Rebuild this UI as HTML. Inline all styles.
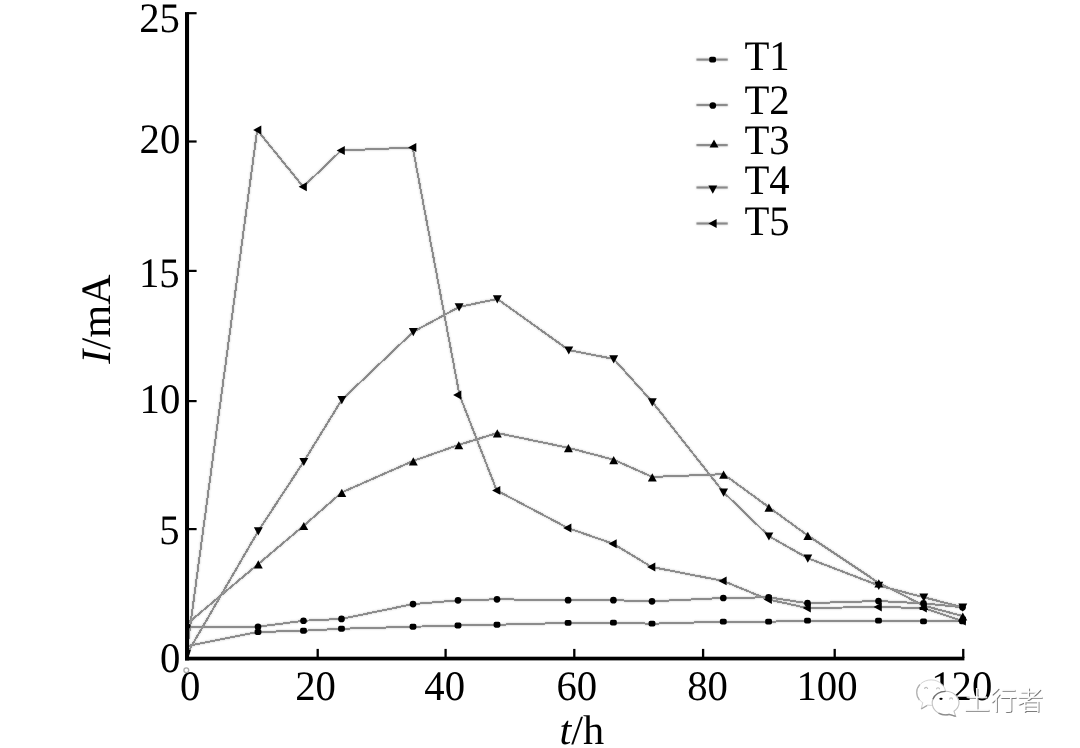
<!DOCTYPE html>
<html lang="zh">
<head>
<meta charset="utf-8">
<title>I/mA - t/h</title>
<style>
html,body{margin:0;padding:0;background:#fff;}
body{width:1080px;height:748px;overflow:hidden;position:relative;}
svg{display:block;position:absolute;left:0;top:0;}
text{font-family:"Liberation Serif","Noto Serif CJK SC",serif;fill:#000;text-rendering:geometricPrecision;}
.tick{font-size:42px;}
.lab{font-size:41.5px;}
.leg{font-size:42px;}
.wm{font-family:"Liberation Sans","Noto Sans CJK SC",sans-serif;font-size:26.6px;font-weight:300;}
</style>
</head>
<body>
<svg width="1080" height="748" viewBox="0 0 1080 748">
<rect width="1080" height="748" fill="#fff"/>

<defs><filter id="soft" filterUnits="userSpaceOnUse" x="0" y="0" width="1080" height="748" color-interpolation-filters="sRGB"><feGaussianBlur in="SourceGraphic" stdDeviation="0.8" result="b"/><feComposite in="SourceGraphic" in2="b" operator="arithmetic" k1="0" k2="0.7" k3="0.45" k4="0"/></filter></defs>
<g fill="none" stroke="#888888" stroke-width="2.0" stroke-linejoin="round" shape-rendering="crispEdges" filter="url(#soft)">
<polyline points="187.50,646.00 258.00,632.00 303.50,630.75 341.50,628.75 413.00,626.75 458.00,625.50 497.00,624.75 568.10,622.90 613.40,622.70 652.00,623.70 723.30,621.70 768.60,621.70 807.50,620.70 878.50,620.60 923.50,621.30 962.50,621.30"/>
<polyline points="187.50,626.50 258.00,626.75 303.50,620.75 341.50,618.90 413.00,604.10 458.00,600.30 497.00,599.30 568.10,600.20 613.40,600.20 652.00,601.30 723.30,598.00 768.60,597.30 807.50,603.20 878.50,601.00 923.50,603.40 962.50,607.30"/>
<polyline points="187.50,623.50 258.30,564.00 303.80,525.60 341.80,492.40 413.30,460.90 458.80,444.85 497.30,433.00 568.40,447.80 613.70,459.70 652.30,476.90 723.60,474.20 768.90,507.20 807.80,535.50 878.80,582.90 923.80,605.60 962.80,616.10"/>
<polyline points="187.50,653.00 258.30,531.00 303.80,461.60 341.80,399.80 413.30,331.80 459.10,307.00 497.30,298.90 568.80,350.10 613.70,358.90 652.30,401.90 723.60,492.30 768.90,536.10 807.80,558.20 878.80,585.50 923.80,597.30 962.80,607.20"/>
<polyline points="187.50,646.00 257.20,130.00 303.20,186.75 341.20,150.50 412.70,147.50 459.50,395.00 496.70,490.40 567.80,528.00 613.10,543.75 651.70,567.00 723.00,580.90 768.30,599.50 807.20,608.00 878.20,607.00 923.20,608.00 962.20,621.00"/>
</g>
<g fill="#000">
<rect x="254.60" y="629.10" width="6.80" height="5.80" rx="1.8" ry="1.8"/>
<rect x="300.10" y="627.85" width="6.80" height="5.80" rx="1.8" ry="1.8"/>
<rect x="338.10" y="625.85" width="6.80" height="5.80" rx="1.8" ry="1.8"/>
<rect x="409.60" y="623.85" width="6.80" height="5.80" rx="1.8" ry="1.8"/>
<rect x="454.60" y="622.60" width="6.80" height="5.80" rx="1.8" ry="1.8"/>
<rect x="493.60" y="621.85" width="6.80" height="5.80" rx="1.8" ry="1.8"/>
<rect x="564.70" y="620.00" width="6.80" height="5.80" rx="1.8" ry="1.8"/>
<rect x="610.00" y="619.80" width="6.80" height="5.80" rx="1.8" ry="1.8"/>
<rect x="648.60" y="620.80" width="6.80" height="5.80" rx="1.8" ry="1.8"/>
<rect x="719.90" y="618.80" width="6.80" height="5.80" rx="1.8" ry="1.8"/>
<rect x="765.20" y="618.80" width="6.80" height="5.80" rx="1.8" ry="1.8"/>
<rect x="804.10" y="617.80" width="6.80" height="5.80" rx="1.8" ry="1.8"/>
<rect x="875.10" y="617.70" width="6.80" height="5.80" rx="1.8" ry="1.8"/>
<rect x="920.10" y="618.40" width="6.80" height="5.80" rx="1.8" ry="1.8"/>
<rect x="959.10" y="618.40" width="6.80" height="5.80" rx="1.8" ry="1.8"/>
<circle cx="258.00" cy="626.75" r="3.35"/>
<circle cx="303.50" cy="620.75" r="3.35"/>
<circle cx="341.50" cy="618.90" r="3.35"/>
<circle cx="413.00" cy="604.10" r="3.35"/>
<circle cx="458.00" cy="600.30" r="3.35"/>
<circle cx="497.00" cy="599.30" r="3.35"/>
<circle cx="568.10" cy="600.20" r="3.35"/>
<circle cx="613.40" cy="600.20" r="3.35"/>
<circle cx="652.00" cy="601.30" r="3.35"/>
<circle cx="723.30" cy="598.00" r="3.35"/>
<circle cx="768.60" cy="597.30" r="3.35"/>
<circle cx="807.50" cy="603.20" r="3.35"/>
<circle cx="878.50" cy="601.00" r="3.35"/>
<circle cx="923.50" cy="603.40" r="3.35"/>
<circle cx="962.50" cy="607.30" r="3.35"/>
<path d="M253.85 568.50L262.75 568.50L258.30 560.30Z"/>
<path d="M299.35 530.10L308.25 530.10L303.80 521.90Z"/>
<path d="M337.35 496.90L346.25 496.90L341.80 488.70Z"/>
<path d="M408.85 465.40L417.75 465.40L413.30 457.20Z"/>
<path d="M454.35 449.35L463.25 449.35L458.80 441.15Z"/>
<path d="M492.85 437.50L501.75 437.50L497.30 429.30Z"/>
<path d="M563.95 452.30L572.85 452.30L568.40 444.10Z"/>
<path d="M609.25 464.20L618.15 464.20L613.70 456.00Z"/>
<path d="M647.85 481.40L656.75 481.40L652.30 473.20Z"/>
<path d="M719.15 478.70L728.05 478.70L723.60 470.50Z"/>
<path d="M764.45 511.70L773.35 511.70L768.90 503.50Z"/>
<path d="M803.35 540.00L812.25 540.00L807.80 531.80Z"/>
<path d="M874.35 587.40L883.25 587.40L878.80 579.20Z"/>
<path d="M919.35 610.10L928.25 610.10L923.80 601.90Z"/>
<path d="M958.35 620.60L967.25 620.60L962.80 612.40Z"/>
<path d="M253.85 527.30L262.75 527.30L258.30 535.50Z"/>
<path d="M299.35 457.90L308.25 457.90L303.80 466.10Z"/>
<path d="M337.35 396.10L346.25 396.10L341.80 404.30Z"/>
<path d="M408.85 328.10L417.75 328.10L413.30 336.30Z"/>
<path d="M454.65 303.30L463.55 303.30L459.10 311.50Z"/>
<path d="M492.85 295.20L501.75 295.20L497.30 303.40Z"/>
<path d="M564.35 346.40L573.25 346.40L568.80 354.60Z"/>
<path d="M609.25 355.20L618.15 355.20L613.70 363.40Z"/>
<path d="M647.85 398.20L656.75 398.20L652.30 406.40Z"/>
<path d="M719.15 488.60L728.05 488.60L723.60 496.80Z"/>
<path d="M764.45 532.40L773.35 532.40L768.90 540.60Z"/>
<path d="M803.35 554.50L812.25 554.50L807.80 562.70Z"/>
<path d="M874.35 581.80L883.25 581.80L878.80 590.00Z"/>
<path d="M919.35 593.60L928.25 593.60L923.80 601.80Z"/>
<path d="M958.35 603.50L967.25 603.50L962.80 611.70Z"/>
<path d="M261.30 125.55L261.30 134.45L253.10 130.00Z"/>
<path d="M306.80 182.30L306.80 191.20L298.60 186.75Z"/>
<path d="M344.80 146.05L344.80 154.95L336.60 150.50Z"/>
<path d="M416.30 143.05L416.30 151.95L408.10 147.50Z"/>
<path d="M461.30 390.55L461.30 399.45L453.10 395.00Z"/>
<path d="M500.30 485.95L500.30 494.85L492.10 490.40Z"/>
<path d="M571.40 523.55L571.40 532.45L563.20 528.00Z"/>
<path d="M616.70 539.30L616.70 548.20L608.50 543.75Z"/>
<path d="M655.30 562.55L655.30 571.45L647.10 567.00Z"/>
<path d="M726.60 576.45L726.60 585.35L718.40 580.90Z"/>
<path d="M771.90 595.05L771.90 603.95L763.70 599.50Z"/>
<path d="M810.80 603.55L810.80 612.45L802.60 608.00Z"/>
<path d="M881.80 602.55L881.80 611.45L873.60 607.00Z"/>
<path d="M926.80 603.55L926.80 612.45L918.60 608.00Z"/>
<path d="M965.80 616.55L965.80 625.45L957.60 621.00Z"/>
</g>
<g fill="#000">
<circle cx="187.9" cy="626" r="2.6"/>
<path d="M186 650L190.9 650L189.2 655.5Z"/>
<rect x="185" y="12.1" width="4.05" height="648.3"/>
<rect x="185" y="656.7" width="779.4" height="3.7"/>
<rect x="187" y="12.10" width="9.6" height="2.2"/>
<rect x="187" y="140.40" width="9.6" height="2.2"/>
<rect x="187" y="269.80" width="9.6" height="2.2"/>
<rect x="187" y="400.00" width="9.6" height="2.2"/>
<rect x="187" y="528.00" width="9.6" height="2.2"/>
<rect x="316.55" y="648.9" width="2.3" height="9"/>
<rect x="444.45" y="648.9" width="2.3" height="9"/>
<rect x="573.15" y="648.9" width="2.3" height="9"/>
<rect x="701.95" y="648.9" width="2.3" height="9"/>
<rect x="833.55" y="648.9" width="2.3" height="9"/>
<rect x="962.10" y="648.9" width="2.3" height="9"/>
</g>
<text class="tick" transform="translate(139.25,31.70) scale(0.97,1)">25</text>
<text class="tick" transform="translate(139.51,152.60) scale(0.97,1)">20</text>
<text class="tick" transform="translate(138.95,287.20) scale(0.97,1)">15</text>
<text class="tick" transform="translate(139.51,412.70) scale(0.97,1)">10</text>
<text class="tick" transform="translate(159.32,543.60) scale(0.97,1)">5</text>
<text class="tick" transform="translate(159.88,672.30) scale(0.97,1)">0</text>
<text class="tick" transform="translate(180.07,699.90) scale(0.97,1)">0</text>
<text class="tick" transform="translate(295.16,699.90) scale(0.97,1)">20</text>
<text class="tick" transform="translate(424.36,699.90) scale(0.97,1)">40</text>
<text class="tick" transform="translate(556.43,699.90) scale(0.97,1)">60</text>
<text class="tick" transform="translate(687.23,699.90) scale(0.97,1)">80</text>
<text class="tick" transform="translate(796.48,699.90) scale(0.97,1)">100</text>
<text class="tick" transform="translate(931.18,699.90) scale(0.97,1)">120</text>
<text class="lab" transform="translate(559.40,744.00) scale(1.02,1)"><tspan font-style="italic">t</tspan>/h</text>
<text class="lab" transform="translate(109.5,363.7) rotate(-90) scale(1.02,1.01)"><tspan font-style="italic">I</tspan>/mA</text>
<g fill="none" stroke="#888888" stroke-width="2.2" filter="url(#soft)">
<line x1="696.4" y1="59.6" x2="727.8" y2="59.6"/>
<line x1="696.4" y1="105" x2="727.8" y2="105"/>
<line x1="696.4" y1="145.1" x2="727.8" y2="145.1"/>
<line x1="696.4" y1="187.5" x2="727.8" y2="187.5"/>
<line x1="696.4" y1="223.5" x2="727.8" y2="223.5"/>
</g>
<g fill="#000"><rect x="709.20" y="56.70" width="6.80" height="5.80" rx="1.8" ry="1.8"/></g>
<text class="leg" transform="translate(744.40,70.00) scale(0.97,1)">T1</text>
<g fill="#000"><circle cx="712.80" cy="105.50" r="3.35"/></g>
<text class="leg" transform="translate(744.40,113.50) scale(0.97,1)">T2</text>
<g fill="#000"><path d="M709.55 147.60L718.45 147.60L714.00 139.40Z"/></g>
<text class="leg" transform="translate(744.40,153.90) scale(0.97,1)">T3</text>
<g fill="#000"><path d="M708.35 185.60L717.25 185.60L712.80 193.80Z"/></g>
<text class="leg" transform="translate(744.40,193.90) scale(0.97,1)">T4</text>
<g fill="#000"><path d="M716.60 219.05L716.60 227.95L708.40 223.50Z"/></g>
<text class="leg" transform="translate(744.40,234.70) scale(0.97,1)">T5</text>
<defs>
<filter id="sh" x="-10%" y="-10%" width="130%" height="130%"><feDropShadow dx="0.9" dy="0.9" stdDeviation="0.35" flood-color="#6e6e6e" flood-opacity="1"/></filter>
</defs>
<g id="wm">
<path d="M931.2 679.900c-8.000 0-14.500 5.600-14.500 12.500c0 4.200 2.400 7.900 6.100 10.200l-1.600 6.200l6.100-3.700c1.200 0.200 2.500 0.300 3.900 0.300c8.000 0 14.500-5.600 14.500-12.500c0-6.900-6.500-13.000-14.500-13.000z" fill="#fff" stroke="#d4d4d4" stroke-width="1"/>
<path d="M919.4 700.000c-1.700-2.100-2.700-4.700-2.700-7.600c0-3.000 1.200-5.700 3.200-7.900" fill="none" stroke="#b0b0b0" stroke-width="1.2"/>
<path d="M927.2 705.400l-6.000 3.500" fill="none" stroke="#a5a5a5" stroke-width="1.2"/>
<path d="M945.6 691.3c-7.400 0-13.400 5.300-13.400 11.800c0 6.500 6.000 11.800 13.400 11.800c1.300 0 2.500-0.200 3.700-0.500l6.400 1.900l-1.700-5.000c2.900-2.100 5.000-4.900 5.000-8.200c0-6.500-6.000-11.800-13.400-11.800z" fill="#fff" stroke="#c2c2c2" stroke-width="1.1"/>
<path d="M932.9 699.200c1.600-4.600 6.700-7.900 12.700-7.900" fill="none" stroke="#6f6f6f" stroke-width="1.2"/>
<path d="M938.5 713.100c2.100 1.100 4.500 1.800 7.100 1.800c1.300 0 2.500-0.200 3.700-0.500l6.400 1.900" fill="none" stroke="#8e8e8e" stroke-width="1.2"/>
<g fill="none" stroke="#bdbdbd" stroke-width="1.1"><path d="M924.6 688.9a1.500 1.500 0 0 1 3 0"/><path d="M936.5 689.200a1.500 1.500 0 0 1 3 0"/><path d="M949.6 699.400a1.500 1.500 0 0 1 3 0"/></g>
<ellipse cx="941" cy="698.8" rx="1.700" ry="1.150" fill="#000"/>
<text class="wm" x="963.6" y="709.6" style="fill:#fff" filter="url(#sh)">土行者</text>
</g>

<circle cx="186.3" cy="670.2" r="2.4" fill="none" stroke="#a8a8a8" stroke-width="1.3"/>
</svg>
</body>
</html>
